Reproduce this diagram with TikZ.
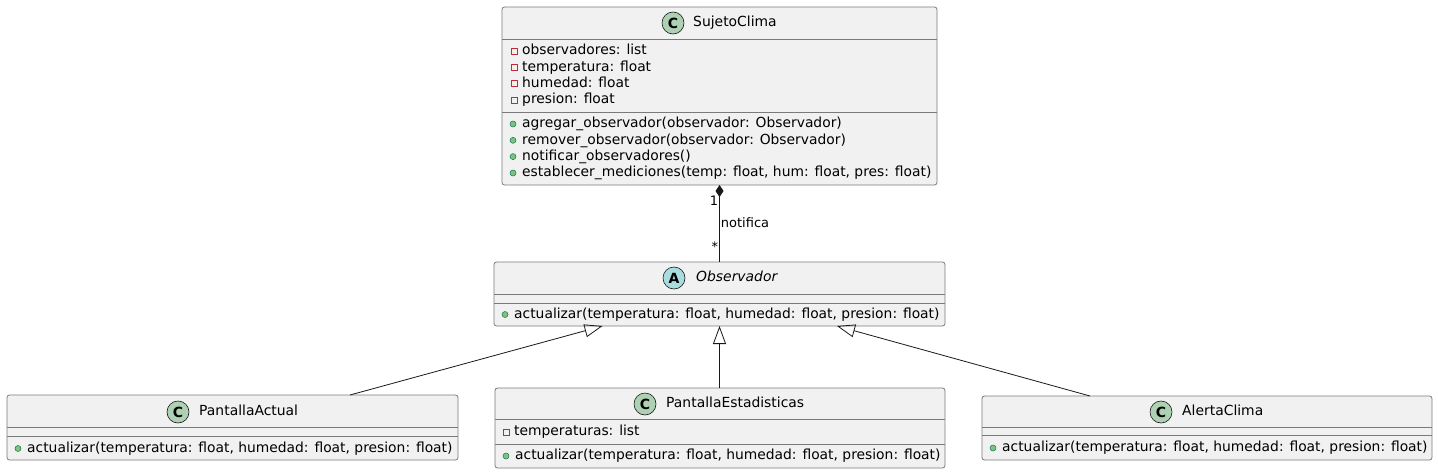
\documentclass[tikz,border=0pt]{standalone}
\usepackage{fontspec}
\setmainfont{DejaVu Sans}
\usetikzlibrary{positioning,calc,arrows.meta}
\definecolor{boxfill}{HTML}{F1F1F1}
\definecolor{boxline}{HTML}{181818}
\definecolor{boxedge}{HTML}{7A7A7A}
\definecolor{circC}{HTML}{ADD1B2}
\definecolor{circA}{HTML}{A9DCDF}
\definecolor{privred}{HTML}{C82930}
\definecolor{publine}{HTML}{038048}
\definecolor{pubfill}{HTML}{84BE84}
\tikzset{
  umlbox/.style={draw=boxedge, fill=boxfill, line width=0.8pt, rounded corners=2.5pt,
    inner sep=0pt, outer sep=0pt, anchor=north west},
  sepline/.style={draw=boxedge, line width=0.8pt},
  stereo/.style={circle, draw=boxline, line width=0.6pt, minimum size=22pt, inner sep=0pt,
    font=\fontsize{14}{14}\selectfont\bfseries},
  title/.style={anchor=west, inner sep=0pt, text height=10.5pt, text depth=3pt,
    font=\fontsize{13.9}{16}\selectfont},
  member/.style={anchor=west, inner sep=0pt, text height=10.5pt, text depth=3pt,
    font=\fontsize{13.85}{16}\selectfont},
  privicon/.style={rectangle, draw=privred, line width=0.8pt, minimum size=6pt, inner sep=0pt},
  pubicon/.style={circle, draw=publine, fill=pubfill, line width=0.5pt, minimum size=6pt, inner sep=0pt},
  small/.style={inner sep=1pt, font=\fontsize{13}{13}\selectfont},
  comp/.style={draw=boxline, line width=0.8pt, {Diamond[length=12pt,width=8pt]}-},
  inherit/.style={draw=boxline, line width=0.8pt, -{Triangle[open,length=18pt,width=13pt]}}
}
% #1 name, #2 icon x, #3 y, #4 text
\newcommand{\privMember}[4]{\node[privicon] (#1i) at (#2,#3) {};
	\node[member] (#1) at (#2+8,#3) {#4};}
\newcommand{\pubMember}[4]{\node[pubicon] (#1i) at (#2,#3) {};
	\node[member] (#1) at (#2+9,#3) {#4};}

\begin{document}
\begin{tikzpicture}[x=1pt, y=-1pt]
\useasboundingbox (0,0) rectangle (1438,474);

% SujetoClima
\node[umlbox, minimum width=435pt, minimum height=178pt] (sujeto) at (502,7) {};
\node[stereo, fill=circC] (sujetoS) at (673,23) {C};
\node[title] (sujetoT) at (693,23) {SujetoClima};
\draw[sepline] (502,39) -- (937,39);
\draw[sepline] (502,112) -- (937,112);
\privMember{sa1}{514}{51}{observadores: list}
\privMember{sa2}{514}{67.3}{temperatura: float}
\privMember{sa3}{514}{83.6}{humedad: float}
\privMember{sa4}{514}{100}{presion: float}
\pubMember{sm1}{513}{124}{agregar\_observador(observador: Observador)}
\pubMember{sm2}{513}{140.3}{remover\_observador(observador: Observador)}
\pubMember{sm3}{513}{156.6}{notificar\_observadores()}
\pubMember{sm4}{513}{173}{establecer\_mediciones(temp: float, hum: float, pres: float)}

% Observador
\node[umlbox, minimum width=451pt, minimum height=64pt] (observador) at (494,262) {};
\node[stereo, fill=circA] (observadorS) at (674,278) {A};
\node[title, font=\fontsize{13.9}{16}\selectfont\itshape] (observadorT) at (696,278) {Observador};
\draw[sepline] (494,294) -- (945,294);
\draw[sepline] (494,303) -- (945,303);
\pubMember{om1}{505}{314.5}{actualizar(temperatura: float, humedad: float, presion: float)}

% PantallaActual
\node[umlbox, minimum width=451pt, minimum height=65pt] (actual) at (7,395) {};
\node[stereo, fill=circC] (actualS) at (178,412) {C};
\node[title] (actualT) at (199,412) {PantallaActual};
\draw[sepline] (7,427) -- (458,427);
\draw[sepline] (7,436) -- (458,436);
\pubMember{am1}{18}{448.5}{actualizar(temperatura: float, humedad: float, presion: float)}

% PantallaEstadisticas
\node[umlbox, minimum width=450pt, minimum height=80pt] (estadisticas) at (495,388) {};
\node[stereo, fill=circC] (estadisticasS) at (645,404) {C};
\node[title] (estadisticasT) at (666,404) {PantallaEstadisticas};
\draw[sepline] (495,419) -- (945,419);
\draw[sepline] (495,444) -- (945,444);
\privMember{ea1}{506}{432}{temperaturas: list}
\pubMember{em1}{506}{456}{actualizar(temperatura: float, humedad: float, presion: float)}

% AlertaClima
\node[umlbox, minimum width=450pt, minimum height=64pt] (alerta) at (982,396) {};
\node[stereo, fill=circC] (alertaS) at (1161,412) {C};
\node[title] (alertaT) at (1182,412) {AlertaClima};
\draw[sepline] (982,427) -- (1432,427);
\draw[sepline] (982,435) -- (1432,435);
\pubMember{lm1}{993}{448}{actualizar(temperatura: float, humedad: float, presion: float)}

% connectors
\draw[comp] (sujeto.south) -- (observador.north)
	node[small, pos=0.2, left] (multOne) {1}
	node[small, pos=0.49, right] (notifica) {notifica}
	node[small, pos=0.8, left] (multMany) {*};
\draw[inherit] ([xshift=117.5pt]actual.north) -- ([xshift=-117pt]observador.south);
\draw[inherit] ([xshift=-0.5pt]estadisticas.north) -- (observador.south);
\draw[inherit] ([xshift=-117pt]alerta.north) -- ([xshift=117.5pt]observador.south);
\end{tikzpicture}
\end{document}
